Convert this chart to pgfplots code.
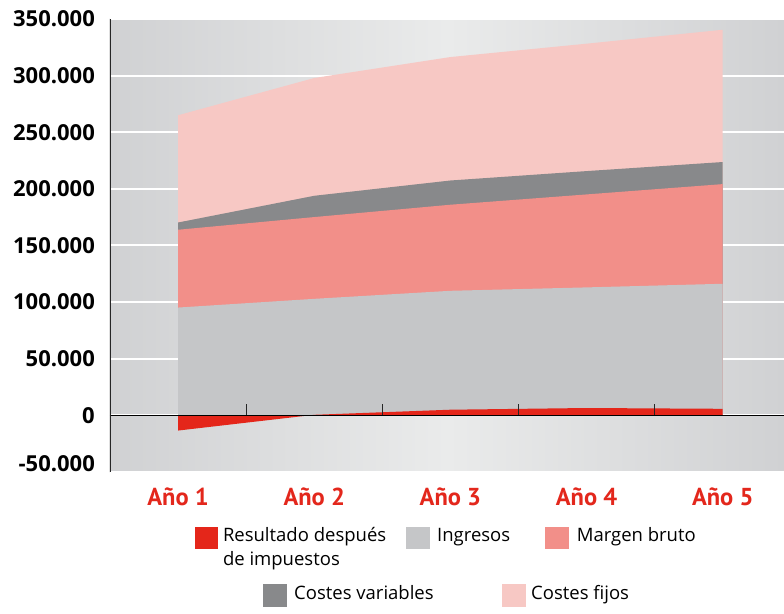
\documentclass[border=0pt]{standalone}
\usepackage{pgfplots}
\pgfplotsset{compat=1.18}
\usepackage{fontspec}
\setmainfont{Open Sans}
\newfontfamily\yearfont{PT Sans}

\definecolor{resultado}{HTML}{E4261A}
\definecolor{ingresos}{HTML}{C5C6C8}
\definecolor{margen}{HTML}{F28F89}
\definecolor{variables}{HTML}{88898B}
\definecolor{fijos}{HTML}{F7C8C4}
\definecolor{labelred}{HTML}{E3271C}
\definecolor{bgedge}{HTML}{D0D1D3}
\definecolor{bgmid}{HTML}{EAEBEB}

\begin{document}
\begin{tikzpicture}
\begin{axis}[
  at={(0,0)}, anchor=south west,
  scale only axis, width=674pt, height=453pt,
  xmin=-0.5, xmax=4.45, ymin=-50000, ymax=350000,
  axis line style={draw=none},
  major tick length=0pt,
  scaled y ticks=false,
  xtick={0,1,2,3,4},
  xticklabels={Año 1, Año 2, Año 3, Año 4, Año 5},
  xticklabel style={font=\yearfont\bfseries\fontsize{24.5}{28}\selectfont,
    text=labelred, anchor=base, inner sep=0pt, yshift=-33.7pt},
  ytick={0,50000,...,350000},
  yticklabels={0, 50.000, 100.000, 150.000, 200.000, 250.000, 300.000, 350.000},
  yticklabel style={font=\bfseries\fontsize{22}{26}\selectfont,
    anchor=east, inner sep=0pt, xshift=-15pt},
  extra y ticks={-50000},
  extra y tick labels={-50.000},
  extra y tick style={yticklabel style={anchor=south east}},
  ymajorgrids, grid style={white, line width=2pt},
  axis background/.style={left color=bgedge, right color=bgedge, middle color=bgmid},
]
% Costes fijos (top band)
\addplot[fill=fijos, draw=none] coordinates
  {(0,265000) (1,297900) (2,316400) (3,328200) (4,340500)} \closedcycle;
% Costes variables
\addplot[fill=variables, draw=none] coordinates
  {(0,170300) (1,193900) (2,207400) (3,215700) (4,223700)} \closedcycle;
% Margen bruto
\addplot[fill=margen, draw=none] coordinates
  {(0,163900) (1,175100) (2,186000) (3,195100) (4,204200)} \closedcycle;
% Ingresos
\addplot[fill=ingresos, draw=none] coordinates
  {(0,95200) (1,102900) (2,110000) (3,113000) (4,116200)} \closedcycle;
% Resultado despues de impuestos
\addplot[fill=resultado, draw=none] coordinates
  {(0,-13400) (1,500) (2,5000) (3,6500) (4,5800)} \closedcycle;

% zero line, category separators and left axis line
\draw[black, line width=1.6pt] (axis cs:-0.5,0) -- (axis cs:4.45,0);
\draw[black!85, line width=1.3pt] (axis cs:0.5,0) -- ([yshift=11pt]axis cs:0.5,0);
\draw[black!85, line width=1.3pt] (axis cs:1.5,0) -- ([yshift=11pt]axis cs:1.5,0);
\draw[black!85, line width=1.3pt] (axis cs:2.5,0) -- ([yshift=11pt]axis cs:2.5,0);
\draw[black!85, line width=1.3pt] (axis cs:3.5,0) -- ([yshift=11pt]axis cs:3.5,0);
\draw[black!85, line width=1.2pt] (axis cs:-0.5,-50000) -- (axis cs:-0.5,350000);
\end{axis}

% legend
\begin{scope}[every node/.style={anchor=base west, inner sep=0pt,
    font=\fontsize{18.5}{22}\selectfont}]
  \fill[resultado] (84.5pt,-54.7pt) rectangle (108pt,-76.7pt);
  \node at (112.8pt,-69.7pt) {Resultado después};
  \node at (112.8pt,-93.7pt) {de impuestos};
  \fill[ingresos] (296pt,-54.7pt) rectangle (319.5pt,-76.7pt);
  \node at (327pt,-69.7pt) {Ingresos};
  \fill[margen] (435pt,-54.7pt) rectangle (458.5pt,-76.7pt);
  \node at (466.6pt,-69.7pt) {Margen bruto};
  \fill[variables] (153pt,-112pt) rectangle (176.5pt,-134.7pt);
  \node at (184pt,-127.3pt) {Costes variables};
  \fill[fijos] (392pt,-112pt) rectangle (415.5pt,-134.7pt);
  \node at (421pt,-127.3pt) {Costes fijos};
\end{scope}

\pgfresetboundingbox
\path (-110pt,-141pt) rectangle (674pt,472pt);
\end{tikzpicture}
\end{document}
